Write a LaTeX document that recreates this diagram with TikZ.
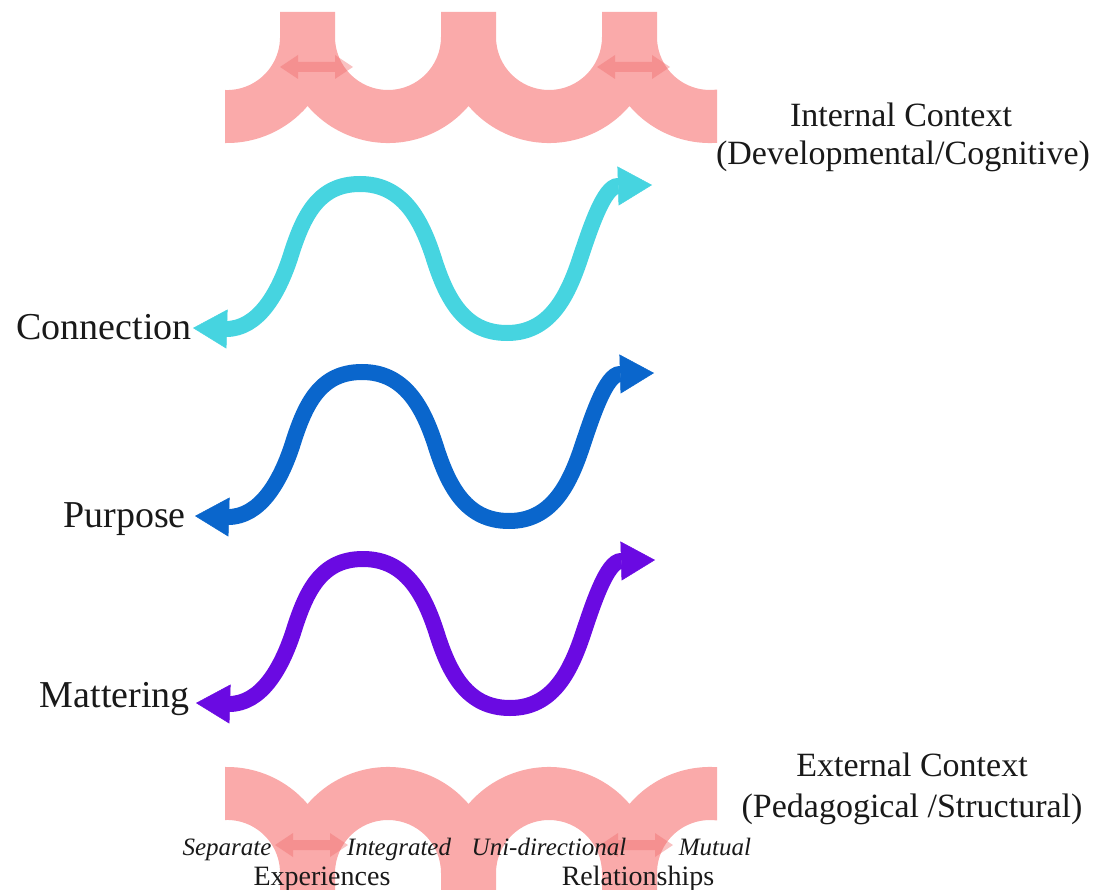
\documentclass[tikz,border=0pt]{standalone}
\usepackage{fontspec}
\setmainfont{Liberation Serif}
\usetikzlibrary{arrows.meta}
\definecolor{band}{RGB}{250,170,170}
\definecolor{arr}{RGB}{240,110,110}
\definecolor{wcyan}{RGB}{70,212,224}
\definecolor{wblue}{RGB}{10,102,204}
\definecolor{wpurple}{RGB}{106,10,226}
\definecolor{txt}{RGB}{25,25,25}
\newcommand\dblarr[3]{%
  \fill[parrow] (#1,#3) -- ++(18,-12) -- ++(0,7) -- (#2-18,#3-5) -- ++(0,-7)
    -- (#2,#3) -- ++(-18,12) -- ++(0,-7) -- (#1+18,#3+5) -- ++(0,7) -- cycle;}
\begin{document}
\begin{tikzpicture}[x=1pt,y=-1pt,
  bandfill/.style={fill=band},
  parrow/.style={fill=arr,fill opacity=0.42},
  wave/.style={line width=16pt,
    arrows={Triangle[length=34pt,width=39pt,line width=0.5pt]-Triangle[length=34pt,width=39pt,line width=0.5pt]}},
  lbl/.style={font=\fontsize{38}{44}\selectfont, text=txt, inner sep=0pt, anchor=base east},
  ctx/.style={font=\fontsize{34}{40}\selectfont, text=txt, inner sep=0pt, anchor=base},
  small/.style={font=\fontsize{25}{30}\selectfont\itshape, text=txt, inner sep=0pt, anchor=base},
  sub/.style={font=\fontsize{28}{32}\selectfont, text=txt, inner sep=0pt, anchor=base}]
\useasboundingbox (0,0) rectangle (1102,890);

% top band (internal context)
\fill[bandfill] (225,90) arc[start angle=92.2, end angle=0, radius=53]
  -- (280,12) -- (335,12) -- (335,37)
  arc[start angle=180, end angle=0, radius=53]
  -- (441,12) -- (496,12) -- (496,37)
  arc[start angle=180, end angle=0, radius=53]
  -- (602,12) -- (657,12) -- (657,37)
  arc[start angle=180, end angle=82.4, radius=53]
  -- (717,142.8)
  arc[start angle=86.2, end angle=139.4, radius=106]
  arc[start angle=40.6, end angle=139.4, radius=106]
  arc[start angle=40.6, end angle=139.4, radius=106]
  arc[start angle=40.6, end angle=91.1, radius=106]
  -- cycle;

% bottom band (external context)
\fill[bandfill] (225,820) arc[start angle=-92.2, end angle=0, radius=53]
  -- (280,898) -- (335,898) -- (335,873)
  arc[start angle=-180, end angle=0, radius=53]
  -- (441,898) -- (496,898) -- (496,873)
  arc[start angle=-180, end angle=0, radius=53]
  -- (602,898) -- (657,898) -- (657,873)
  arc[start angle=-180, end angle=-82.4, radius=53]
  -- (717,767.2)
  arc[start angle=-86.2, end angle=-139.4, radius=106]
  arc[start angle=-40.6, end angle=-139.4, radius=106]
  arc[start angle=-40.6, end angle=-139.4, radius=106]
  arc[start angle=-40.6, end angle=-91.1, radius=106]
  -- cycle;

% double arrows in the bands
\dblarr{280}{353}{67}
\dblarr{597}{670}{67}
\dblarr{275}{348}{845}
\dblarr{600}{673}{845}

% waves
\foreach \col/\dx/\dy in {wcyan/0/0, wblue/2/188, wpurple/3/375}{
  \begin{scope}[shift={(\dx,\dy)}]
    \draw[wave, draw=\col] (193,328) -- (226,329)
      .. controls (258,329) and (278,294) .. (290,258)
      .. controls (303,216) and (318,184) .. (360,184)
      .. controls (402,184) and (421,218) .. (434,259)
      .. controls (447,300) and (465,333) .. (507,333)
      .. controls (549,333) and (567,298) .. (580,259)
      .. controls (590,229) and (604,186) .. (618,186)
      -- (652,185);
  \end{scope}
}

% texts
\node[ctx] (int1) at (901,127) {Internal Context};
\node[ctx] (int2) at (903,165) {(Developmental/Cognitive)};
\node[ctx] (ext1) at (912,776) {External Context};
\node[ctx] (ext2) at (912,817) {(Pedagogical /Structural)};
\node[lbl] (conn) at (192,339) {Connection};
\node[lbl] (purp) at (186,527) {Purpose};
\node[lbl] (matt) at (190,707) {Mattering};
\node[small] (sep) at (227,855) {Separate};
\node[small] (integ) at (399,855) {Integrated};
\node[small] (uni) at (549,855) {Uni-directional};
\node[small] (mut) at (715,855) {Mutual};
\node[sub] (exp) at (322,885) {Experiences};
\node[sub] (rel) at (638,885) {Relationships};
\end{tikzpicture}
\end{document}
